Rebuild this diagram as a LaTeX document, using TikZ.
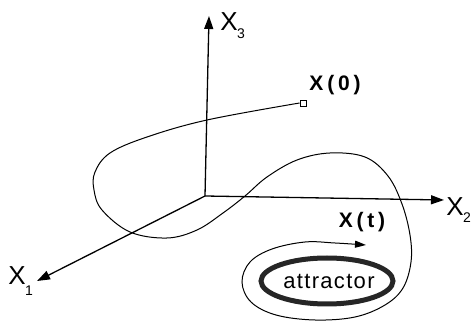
\documentclass[tikz,border=0pt]{standalone}
\usepackage{fontspec}
\setmainfont{Liberation Sans}
\newfontfamily\lblfont[LetterSpace=18]{Liberation Sans}
\newfontfamily\attrfont[LetterSpace=6]{Liberation Sans}
\usetikzlibrary{arrows.meta}
\tikzset{
  axis/.style={line width=1.3pt, -{Triangle[length=13pt,width=9pt]}},
  traj/.style={line width=1pt},
  axlabel/.style={inner sep=0pt, font=\fontsize{26}{26}\selectfont},
  sublabel/.style={inner sep=0pt, font=\fontsize{14}{14}\selectfont},
  statelabel/.style={inner sep=0pt, font=\fontsize{21}{21}\selectfont\lblfont\bfseries},
}
\begin{document}
\begin{tikzpicture}[x=1pt,y=-1pt]
\useasboundingbox (0,0) rectangle (472,323);
\coordinate (O) at (205,196);
\coordinate (t3) at (209,16);
\coordinate (t2) at (444,200);
\coordinate (t1) at (37,281);
\draw[axis] (O) -- (t3);
\draw[axis] (O) -- (t2);
\draw[axis] (O) -- (t1);
\node[axlabel] (X3) at (229,22) {X};
\node[sublabel] (s3) at (241,34) {3};
\node[axlabel] (X2) at (455,207) {X};
\node[sublabel] (s2) at (467,218) {2};
\node[axlabel] (X1) at (17,276) {X};
\node[sublabel] (s1) at (29,291) {1};
% attractor
\draw[line width=5pt, black!85] (327,281) ellipse [x radius=66, y radius=23];
\node[inner sep=0pt, font=\fontsize{22}{22}\selectfont\attrfont] (attr) at (329,281) {attractor};
% initial state
\node[draw, line width=0.9pt, minimum size=6pt, inner sep=0pt] (x0) at (303,103) {};
\node[statelabel] (x0l) at (335,85) {X(0)};
\coordinate (xt) at (366,245);
\draw[traj, -{Triangle[length=11pt,width=7pt]}] plot[smooth, tension=0.6] coordinates {
 (x0.west) (207,120) (147,137) (110,153) (95,172) (94,190) (102,210) (130,232) (167,238)
 (197,230) (223,213) (245,196) (267,177) (297,160) (330,153) (365,157) (388,176)
 (402,204) (410,235) (411,262) (403,288) (385,305) (355,317) (315,320) (276,315)
 (251,302) (242,282) (250,262) (272,249) (305,242) (335,243) (xt)};
\node[statelabel] (xtl) at (362,222) {X(t)};
\end{tikzpicture}
\end{document}
